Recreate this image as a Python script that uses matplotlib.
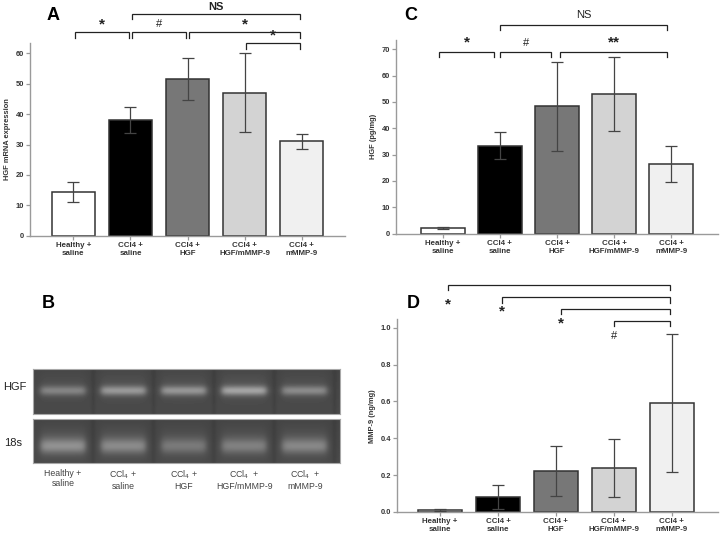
import numpy as np
import matplotlib
matplotlib.use("Agg")
import matplotlib.pyplot as plt

plt.rcParams['font.family'] = ['Liberation Sans', 'DejaVu Sans']

# ---------------- data ----------------
groups = ["Healthy +\nsaline", "CCl4 +\nsaline", "CCl4 +\nHGF", "CCl4 +\nHGF/mMMP-9", "CCl4 +\nmMMP-9"]
gel_labels = ["Healthy +\nsaline", "CCl$_4$ +\nsaline", "CCl$_4$ +\nHGF", "CCl$_4$  +\nHGF/mMMP-9", "CCl$_4$  +\nmMMP-9"]
bar_colors = ["#ffffff", "#000000", "#777777", "#d3d3d3", "#f0f0f0"]

a_values = [14.5, 38.0, 51.6, 47.1, 31.1]
a_errors = [3.3, 4.2, 7.0, 13.0, 2.5]

c_values = [2.2, 33.4, 48.3, 53.0, 26.5]
c_errors = [0.3, 5.1, 17.0, 13.9, 6.8]

d_values = [0.010, 0.080, 0.222, 0.239, 0.590]
d_errors = [0.004, 0.066, 0.134, 0.157, 0.375]

hgf_band = [0.21, 0.28, 0.27, 0.32, 0.23]
s18_band = [0.22, 0.20, 0.15, 0.17, 0.19]

# significance annotations: (left bar, right bar, label)
a_sig = [(0, 1, "*"), (1, 2, "#"), (2, 4, "*"), (3, 4, "*"), (1, 4, "NS")]
c_sig = [(0, 1, "*"), (1, 2, "#"), (2, 4, "**"), (1, 4, "NS")]
d_sig = [(0, 4, "*"), (1, 4, "*"), (2, 4, "*"), (3, 4, "#")]

W, H = 720, 539
fig = plt.figure(figsize=(W / 100, H / 100), dpi=100)

def px_axes(x0, y0, x1, y1):
    return fig.add_axes([x0 / W, 1 - y1 / H, (x1 - x0) / W, (y1 - y0) / H])

AX_GRAY = "#9a9a9a"
TXT = "#333333"

def style_bar_axes(ax, values, errors, ylim, yticks, yticklabels, ylabel, xlim):
    x = np.arange(len(values))
    ax.bar(x, values, width=0.76, color=bar_colors, edgecolor="#333333", linewidth=1.1, zorder=2)
    ax.errorbar(x, values, yerr=errors, fmt="none", ecolor="#444444", elinewidth=0.9,
                capsize=4.5, capthick=0.9, zorder=3)
    ax.set_xlim(*xlim)
    ax.set_ylim(*ylim)
    ax.set_yticks(yticks)
    ax.set_yticklabels(yticklabels)
    ax.set_xticks(x)
    ax.set_xticklabels(groups)
    for s in ["top", "right"]:
        ax.spines[s].set_visible(False)
    for s in ["left", "bottom"]:
        ax.spines[s].set_color(AX_GRAY)
        ax.spines[s].set_linewidth(1.0)
    ax.tick_params(axis="both", colors=AX_GRAY, length=3, width=0.9, labelcolor=TXT, pad=1.5)
    ax.tick_params(axis="x", labelsize=5.7)
    ax.tick_params(axis="y", labelsize=5.4)
    for lab in ax.get_xticklabels() + ax.get_yticklabels():
        lab.set_fontweight("bold")
    ax.set_ylabel(ylabel, fontsize=5.4, fontweight="bold", color=TXT, labelpad=3)

def bracket(ax, x0, x1, y, drop, lw=0.9):
    ax.plot([x0, x0, x1, x1], [y - drop, y, y, y - drop], color="#222222", lw=lw,
            clip_on=False, solid_joinstyle="miter")

# ---------------- Panel A ----------------
axA = px_axes(30, 43.3, 345, 235.7)
style_bar_axes(axA, a_values, a_errors, (0, 63.3), range(0, 61, 10),
               [str(v) for v in range(0, 61, 10)], "HGF mRNA expression", (-0.76, 4.76))
a_y = {0: 66.9, 1: 66.9, 2: 66.9, 3: 63.3, 4: 72.9}
for k, (i, j, lab) in enumerate(a_sig):
    y = a_y[k]
    drop = 1.7 if k != 3 else 2.0
    x0 = i + (0.03 if k in (1, 2, 4) else 0.02)
    x1 = j - 0.03 if k == 0 else j - 0.02
    bracket(axA, x0, x1, y, drop)
    ty = y + 2.7 if lab != "NS" else y + 2.3
    fs = 11 if lab == "*" else 8
    axA.text((x0 + x1) / 2, ty, lab, ha="center", va="center", fontsize=fs,
             fontweight="bold" if lab != "#" else "normal", color="#222222", clip_on=False)
fig.text(53 / W, 1 - 16 / H, "A", fontsize=13, fontweight="bold", ha="center", va="center")

# ---------------- Panel C ----------------
axC = px_axes(396, 40, 718, 233.7)
style_bar_axes(axC, c_values, c_errors, (0, 73.5), range(0, 71, 10),
               [str(v) for v in range(0, 71, 10)], "HGF (pg/mg)", (-0.82, 4.82))
c_y = {0: 69.1, 1: 69.1, 2: 69.1, 3: 79.2}
for k, (i, j, lab) in enumerate(c_sig):
    y = c_y[k]
    x0 = i - 0.07 if k == 0 else i + 0.0
    x1 = j - 0.1 if k in (0, 1) else j - 0.07
    if k == 2:
        x0 = i + 0.05
    bracket(axC, x0, x1, y, 2.0)
    ty = y + 3.4 if lab != "NS" else y + 3.8
    fs = 11 if "*" in lab else 8
    axC.text((x0 + x1) / 2, ty, lab, ha="center", va="center", fontsize=fs,
             fontweight="bold" if "*" in lab else "normal", color="#222222", clip_on=False)
fig.text(411 / W, 1 - 15 / H, "C", fontsize=13, fontweight="bold", ha="center", va="center")

# ---------------- Panel D ----------------
axD = px_axes(397.3, 319.3, 718, 512)
style_bar_axes(axD, d_values, d_errors, (0, 1.046), np.arange(0, 1.01, 0.2),
               ["0.0", "0.2", "0.4", "0.6", "0.8", "1.0"], "MMP-9 (ng/mg)", (-0.74, 4.8))
d_y = [1.232, 1.165, 1.101, 1.036]
d_ty = [1.125, 1.088, 1.022, 0.957]
d_off = [0.14, 0.07, 0.08, 0.01]
for k, (i, j, lab) in enumerate(d_sig):
    y = d_y[k]
    xl = i + d_off[k]
    bracket(axD, xl, j - 0.03, y, 0.028)
    fs = 11 if lab == "*" else 8
    axD.text(xl, d_ty[k], lab, ha="center", va="center", fontsize=fs,
             fontweight="bold" if lab == "*" else "normal", color="#222222", clip_on=False)
fig.text(413 / W, 1 - 303 / H, "D", fontsize=13, fontweight="bold", ha="center", va="center")

# ---------------- Panel B (gel) ----------------
gxlim = (-0.49, 4.58)

def gel_image(amps, yc, sy, ncol=307, nrow=45, haze=0.0):
    xs = np.linspace(gxlim[0], gxlim[1], ncol)
    ys = np.linspace(0, 1, nrow)[:, None]
    img = np.full((nrow, ncol), 0.28)
    for i, a in enumerate(amps):
        prof = 1 / (1 + np.exp((np.abs(xs - i) - 0.37) / 0.03))
        band = a * np.exp(-((ys - yc) / sy) ** 2) + haze * a * np.exp(-((ys - yc + 0.1) / 0.3) ** 2)
        img += band * prof[None, :]
        gap = 0.025 * np.exp(-((xs - (i + 0.5)) / 0.04) ** 2)
        img -= gap[None, :]
    img += 0.02 * (ys - 0.5)
    return img

axB1 = px_axes(33.3, 369.3, 340, 414)
axB2 = px_axes(33.3, 419.3, 340, 463.3)
for ax, amps, yc, sy, haze in [(axB1, hgf_band, 0.48, 0.11, 0.15), (axB2, s18_band, 0.62, 0.17, 0.35)]:
    ax.imshow(gel_image(amps, yc, sy, haze=haze), cmap="gray", vmin=0, vmax=1,
              extent=(gxlim[0], gxlim[1], 0, 1), aspect="auto", origin="upper",
              interpolation="bilinear")
    ax.set_xlim(*gxlim)
    ax.set_ylim(0, 1)
    ax.set_xticks([])
    ax.set_yticks([])
    for s in ax.spines.values():
        s.set_color("#a8a8a8")
        s.set_linewidth(0.8)

for i, lab in enumerate(gel_labels):
    axB2.text(i, -0.12, lab, ha="center", va="top", fontsize=6.3, color="#444444",
              linespacing=1.2, transform=axB2.get_xaxis_transform())
fig.text(3 / W, 1 - 387 / H, "HGF", fontsize=8, ha="left", va="center", color="#222222")
fig.text(4 / W, 1 - 443 / H, "18s", fontsize=8, ha="left", va="center", color="#222222")
fig.text(48 / W, 1 - 303 / H, "B", fontsize=13, fontweight="bold", ha="center", va="center")

fig.savefig("out.png", dpi=100)
